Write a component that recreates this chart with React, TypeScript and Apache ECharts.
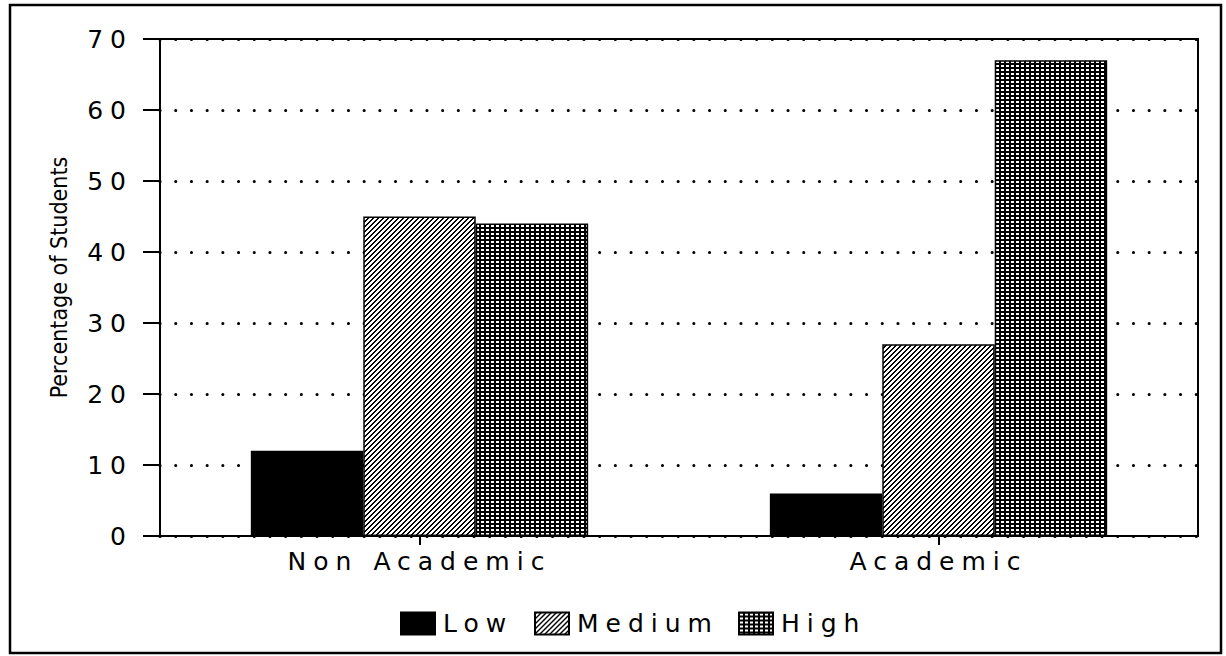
import React, { useEffect, useRef } from "react";
import * as echarts from "echarts";

const categories = ["Non Academic", "Academic"];
const seriesNames = ["Low", "Medium", "High"];
const lowValues = [12, 6];
const mediumValues = [45, 27];
const highValues = [44, 67];
const yTicks = { min: 0, max: 70, interval: 10 };
const yAxisName = "Percentage of Students";

const FONT = "'DejaVu Sans', sans-serif";
const SPACING = "7px";

function makeTile(w: number, h: number, isBlack: (x: number, y: number) => boolean) {
  const c = document.createElement("canvas");
  c.width = w;
  c.height = h;
  const ctx = c.getContext("2d")!;
  const img = ctx.createImageData(w, h);
  for (let y = 0; y < h; y++) {
    for (let x = 0; x < w; x++) {
      const i = (y * w + x) * 4;
      const v = isBlack(x, y) ? 0 : 255;
      img.data[i] = v;
      img.data[i + 1] = v;
      img.data[i + 2] = v;
      img.data[i + 3] = 255;
    }
  }
  ctx.putImageData(img, 0, 0);
  return c;
}

export default function App() {
  const ref = useRef<HTMLDivElement>(null);

  useEffect(() => {
    const el = ref.current!;
    const chart = echarts.init(el, null, { renderer: "svg" });

    const hatch = makeTile(5, 5, (x, y) => (x + y) % 5 < 2);
    const grid = makeTile(5, 4, (x, y) => !(x >= 1 && x <= 3 && y >= 1 && y <= 2));

    const fills: any[] = [
      "#000000",
      { image: hatch, repeat: "repeat", imageWidth: 5, imageHeight: 5 },
      { image: grid, repeat: "repeat", imageWidth: 5, imageHeight: 4 },
    ];
    const values = [lowValues, mediumValues, highValues];
    const legendLefts = [395, 529, 733];

    const textStyle = { fontFamily: FONT, fontSize: 25, color: "#000" };

    chart.setOption({
      animation: false,
      backgroundColor: "#fff",
      grid: {
        left: 160,
        right: 28,
        top: 39,
        bottom: 120,
        show: true,
        borderColor: "#000",
        borderWidth: 2,
        backgroundColor: "transparent",
      },
      legend: seriesNames.map((n, i) => ({
        data: [n],
        left: legendLefts[i],
        top: 606,
        icon: "rect",
        itemWidth: 34,
        itemHeight: 22,
        textStyle: { ...textStyle, padding: [0, 0, 0, 3] },
        selectedMode: false,
      })),
      xAxis: {
        type: "category",
        data: categories,
        axisLine: { lineStyle: { color: "#000", width: 2 } },
        axisTick: { show: true, alignWithLabel: true, length: 9, lineStyle: { color: "#000", width: 2 } },
        axisLabel: { ...textStyle, margin: 13 },
        splitLine: { show: false },
      },
      yAxis: {
        type: "value",
        min: yTicks.min,
        max: yTicks.max,
        interval: yTicks.interval,
        name: yAxisName,
        nameLocation: "middle",
        nameGap: 90,
        nameTextStyle: {
          fontFamily: "'DejaVu Sans Condensed', 'Liberation Sans Narrow', sans-serif",
          fontSize: 23,
          color: "#000",
          padding: [0, 0, 0, 20],
        },
        axisLine: { show: true, lineStyle: { color: "#000", width: 2 } },
        axisTick: { show: true, length: 17, lineStyle: { color: "#000", width: 2 } },
        axisLabel: { ...textStyle, margin: 27 },
        splitLine: {
          show: true,
          lineStyle: { color: "#000", width: 3, type: [0.1, 15.6], cap: "round" },
        },
      },
      series: seriesNames.map((n, i) => ({
        name: n,
        type: "bar",
        data: values[i],
        barGap: "0%",
        barCategoryGap: "35%",
        itemStyle: { color: fills[i], borderColor: "#000", borderWidth: 1.5 },
      })),
      graphic: [
        {
          type: "rect",
          shape: { x: 10, y: 5, width: 1211, height: 648 },
          style: { fill: "none", stroke: "#000", lineWidth: 2.5 },
          silent: true,
        },
      ],
    });

    const applySpacing = () => {
      el.querySelectorAll("text").forEach((t) => {
        if ((t.textContent || "").trim() !== yAxisName) {
          (t as SVGTextElement).style.letterSpacing = SPACING;
        }
      });
    };
    applySpacing();
    chart.on("rendered", applySpacing);
    const tm = setTimeout(applySpacing, 50);

    return () => {
      clearTimeout(tm);
      chart.dispose();
    };
  }, []);

  return (
    <div
      ref={ref}
      style={{ position: "fixed", left: 0, top: 0, width: 1226, height: 656 }}
    />
  );
}
